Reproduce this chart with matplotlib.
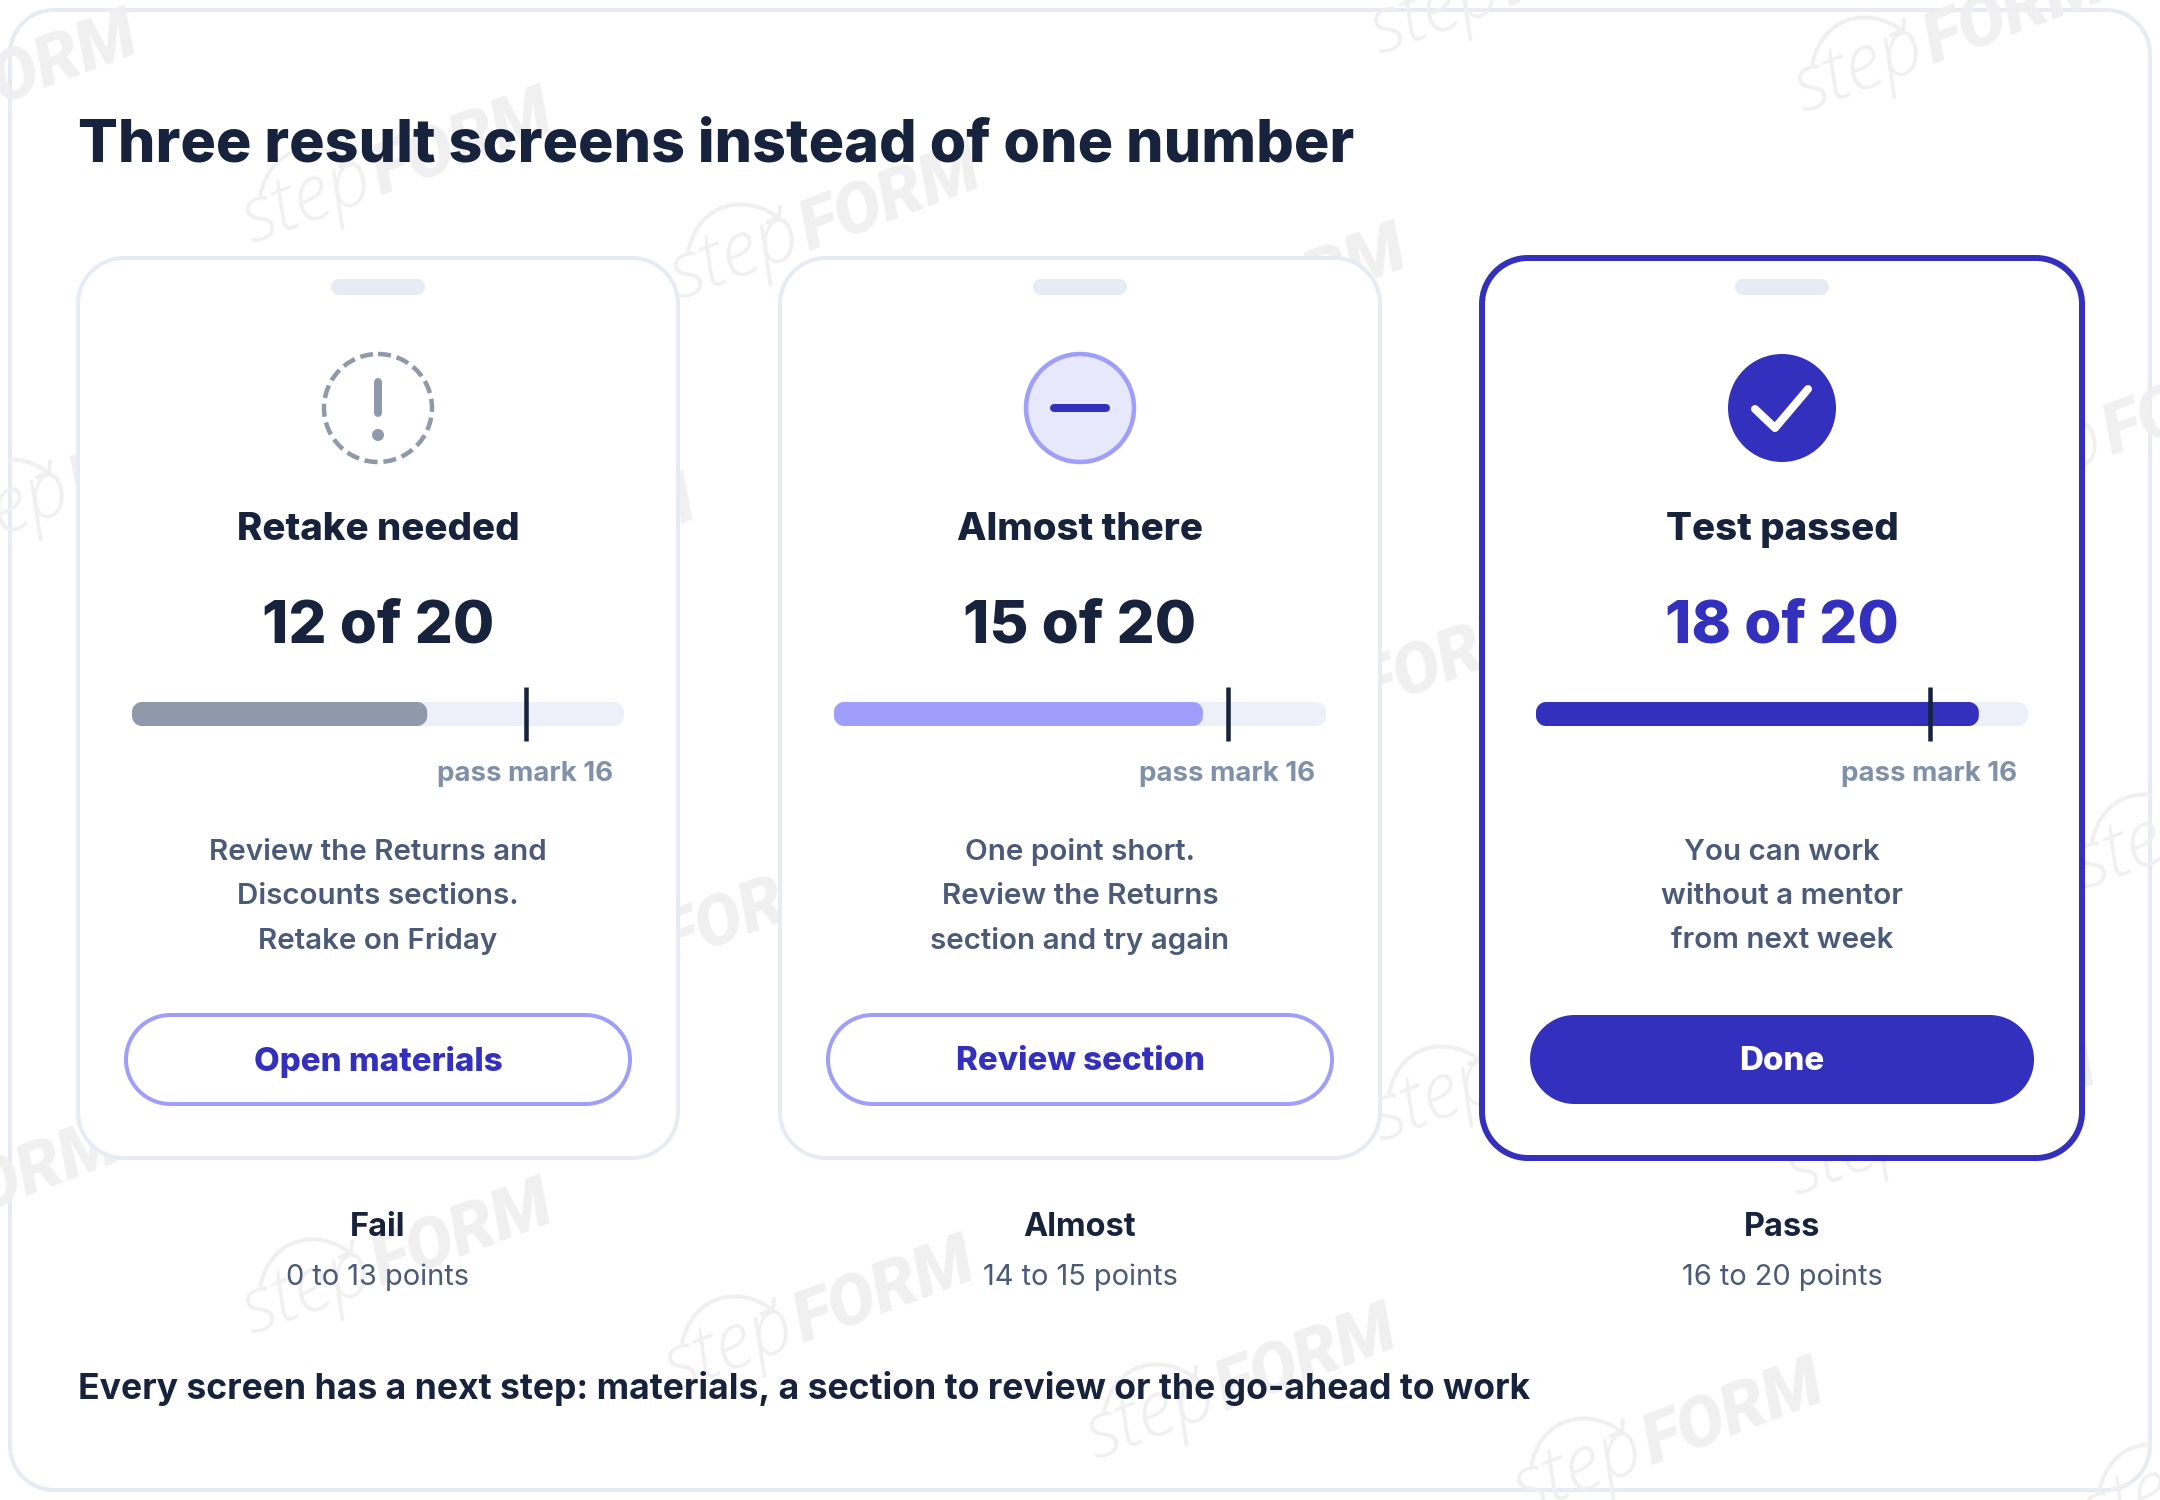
import matplotlib
matplotlib.use("Agg")
import matplotlib.pyplot as plt
from matplotlib.patches import Circle, PathPatch
from matplotlib.path import Path
import math

plt.rcParams['font.family'] = ['Inter', 'DejaVu Sans']

# ---- data ----
headings = ["Retake needed", "Almost there", "Test passed"]
scores = [12, 15, 18]
pass_mark = 16
max_score = 20
body_lines = [
    ["Review the Returns and", "Discounts sections.", "Retake on Friday"],
    ["One point short.", "Review the Returns", "section and try again"],
    ["You can work", "without a mentor", "from next week"],
]
buttons = ["Open materials", "Review section", "Done"]
band_names = ["Fail", "Almost", "Pass"]
band_ranges = ["0 to 13 points", "14 to 15 points", "16 to 20 points"]
title = "Three result screens instead of one number"
footer = "Every screen has a next step: materials, a section to review or the go-ahead to work"

# ---- colours ----
DARK = "#17233c"; INDIGO = "#3330bd"; LILAC = "#9f9ffb"; PALE = "#e8e8fc"
BORDER = "#e6ebf4"; TRACK = "#edf0f9"; GREY = "#8f99aa"; MUTED = "#8090a8"; BODY = "#4a5a78"
WM = "#f0f0f1"
bar_colors = [GREY, LILAC, INDIGO]

W, H = 2160, 1500
fig = plt.figure(figsize=(W/100, H/100), dpi=100, facecolor="white")
ax = fig.add_axes([0, 0, 1, 1])
ax.set_xlim(0, W); ax.set_ylim(H, 0); ax.axis("off")

def px(v):
    return v * 0.72  # pixels -> points at dpi 100

K = 0.5523
def round_path(x0, y0, x1, y1, rx, ry):
    """Rounded rectangle with true elliptical corners."""
    kx, ky = rx*(1-K), ry*(1-K)
    v = [(x0+rx, y0), (x1-rx, y0),
         (x1-kx, y0), (x1, y0+ky), (x1, y0+ry),
         (x1, y1-ry),
         (x1, y1-ky), (x1-kx, y1), (x1-rx, y1),
         (x0+rx, y1),
         (x0+kx, y1), (x0, y1-ky), (x0, y1-ry),
         (x0, y0+ry),
         (x0, y0+ky), (x0+kx, y0), (x0+rx, y0),
         (x0+rx, y0)]
    c = [Path.MOVETO, Path.LINETO,
         Path.CURVE4, Path.CURVE4, Path.CURVE4,
         Path.LINETO,
         Path.CURVE4, Path.CURVE4, Path.CURVE4,
         Path.LINETO,
         Path.CURVE4, Path.CURVE4, Path.CURVE4,
         Path.LINETO,
         Path.CURVE4, Path.CURVE4, Path.CURVE4,
         Path.CLOSEPOLY]
    return Path(v, c)

def rrect(x0, y0, x1, y1, r, fc, ec="none", lw=0, z=2):
    p = PathPatch(round_path(x0, y0, x1, y1, r, r), fc=fc, ec=ec, lw=px(lw), zorder=z)
    ax.add_patch(p)
    return p

outer = rrect(10, 10, 2150, 1490, 44, "white", BORDER, 4, z=1)

# ---- watermarks (behind the cards, clipped by the outer card) ----
ANG = 20.5
def watermark(x, y):
    a = math.radians(ANG)
    ux, uy = math.cos(a), -math.sin(a)
    arts = []
    arts.append(ax.text(x, y, "step", rotation=ANG, rotation_mode="anchor", ha="left", va="baseline",
                        family="Open Sans", style="italic", weight="light", fontsize=px(78), color=WM, zorder=1.2))
    fx, fy = x + 139*ux, y + 139*uy
    arts.append(ax.text(fx, fy, "FORM", rotation=ANG, rotation_mode="anchor", ha="left", va="baseline",
                        family="Roboto", style="italic", weight="black", fontsize=px(70), color=WM, zorder=1.2))
    arc = PathPatch(Path([(x+9, y-48), (x+20, y-101), (x+70, y-105), (x+98, y-83)],
                         [Path.MOVETO, Path.CURVE4, Path.CURVE4, Path.CURVE4]),
                    fc="none", ec=WM, lw=px(4), zorder=1.2)
    ax.add_patch(arc)
    arts.append(arc)
    head = ax.plot([x+101, x+100, x+89], [y-93, y-83, y-78], color=WM, lw=px(4), zorder=1.2)[0]
    arts.append(head)
    for t in arts:
        t.set_clip_path(outer)
        t.set_clip_on(True)

marks = [(-164, 166), (251, 244), (679, 300), (1105, 380), (1803, 113), (1379, 55),
         (-51, 555), (394, 631), (540, 1012), (1238, 760), (1982, 504), (1380, 1142),
         (2083, 890), (1795, 1196), (-182, 1274), (251, 1335), (673, 1392), (1095, 1460),
         (1522, 1514), (2090, 1540)]
for m in marks:
    watermark(*m)

# ---- title and footer ----
ax.text(78, 145.5, title, fontsize=px(59.1), weight=800, color=DARK, va="center", ha="left", zorder=5)
ax.text(78, 1389, footer, fontsize=px(35.6), weight="bold", color=DARK, va="center", ha="left", zorder=5)

# ---- cards ----
centers = [378, 1080, 1782]
for i, cx in enumerate(centers):
    passed = i == 2
    rrect(cx-300, 258, cx+300, 1158, 46, "white", INDIGO if passed else BORDER, 6 if passed else 4, z=3)
    rrect(cx-47, 279, cx+47, 295, 8, BORDER, z=4)

    # icon
    if i == 0:
        ax.add_patch(Circle((cx, 408), 54, fc="white", ec=GREY, lw=px(4.5), ls=(0, (2.9, 1.3)), zorder=4))
        ax.plot([cx, cx], [382, 413], color=GREY, lw=px(8), solid_capstyle="round", zorder=5)
        ax.add_patch(Circle((cx, 435), 6, fc=GREY, ec="none", zorder=5))
    elif i == 1:
        ax.add_patch(Circle((cx, 408), 54, fc=PALE, ec=LILAC, lw=px(4.5), zorder=4))
        ax.plot([cx-26, cx+26], [408, 408], color=INDIGO, lw=px(8), solid_capstyle="round", zorder=5)
    else:
        ax.add_patch(Circle((cx, 408), 54, fc=INDIGO, ec="none", zorder=4))
        ax.plot([cx-27, cx-7, cx+26], [409, 428, 389], color="white", lw=px(8),
                solid_capstyle="round", solid_joinstyle="round", zorder=5)

    ax.text(cx, 530, headings[i], fontsize=px(38.4), weight=800, color=DARK, ha="center", va="center", zorder=5)
    ax.text(cx, 627, f"{scores[i]} of {max_score}", fontsize=px(60), weight=800,
            color=INDIGO if passed else DARK, ha="center", va="center", zorder=5)

    # progress bar on its own 0..20 axis
    x0, x1 = cx-246, cx+246
    y0, y1 = 702, 726
    bar = fig.add_axes([x0/W, 1-y1/H, (x1-x0)/W, (y1-y0)/H])
    bar.set_xlim(0, max_score); bar.set_ylim(0, 1); bar.axis("off"); bar.set_zorder(5)
    rx = 10 / ((x1-x0)/max_score)
    ry = 10 / (y1-y0)
    bar.add_patch(PathPatch(round_path(0, 0, max_score, 1, rx, ry), fc=TRACK, ec="none", clip_on=False))
    bar.add_patch(PathPatch(round_path(0, 0, scores[i], 1, rx, ry), fc=bar_colors[i], ec="none", clip_on=False))
    bar.plot([pass_mark, pass_mark], [-0.63, 1.63], color=DARK, lw=px(4.5), solid_capstyle="butt", clip_on=False)
    mark_x = x0 + pass_mark * (x1-x0) / max_score
    ax.text(mark_x-1, 774, f"pass mark {pass_mark}", fontsize=px(27.7), weight="bold", color=MUTED,
            ha="center", va="center", zorder=5)

    for line, y in zip(body_lines[i], [852, 896.5, 941]):
        ax.text(cx, y, line, fontsize=px(29.6), weight=600, color=BODY, ha="center", va="center", zorder=5)

    if passed:
        rrect(cx-252, 1015, cx+252, 1104, 44.5, INDIGO, z=4)
    else:
        rrect(cx-252, 1015, cx+252, 1104, 44.5, "white", LILAC, 4, z=4)
    ax.text(cx, 1062, buttons[i], fontsize=px(33.1), weight=800, color="white" if passed else INDIGO,
            ha="center", va="center", zorder=5)

    ax.text(cx, 1228, band_names[i], fontsize=px(32.5), weight="bold", color=DARK, ha="center", va="center", zorder=5)
    ax.text(cx, 1277, band_ranges[i], fontsize=px(29), color=BODY, ha="center", va="center", zorder=5)

fig.savefig("out.png", dpi=100, facecolor="white")
